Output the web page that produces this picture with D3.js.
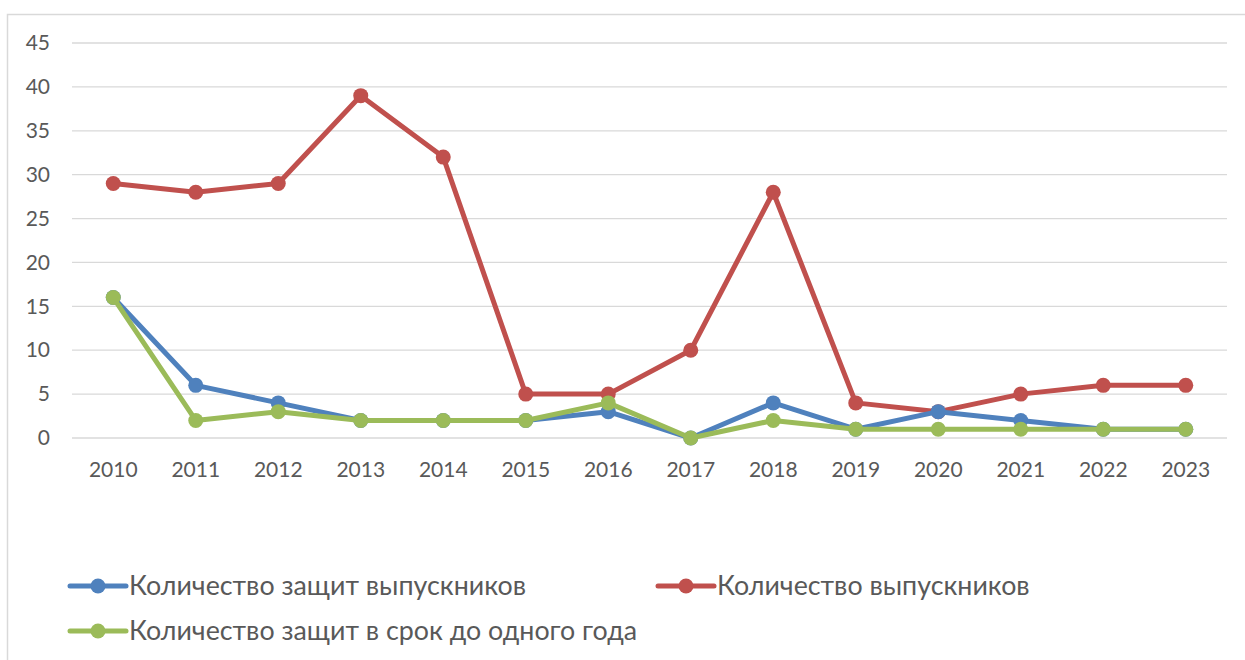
<!DOCTYPE html>
<html lang="ru">
<head>
  <meta charset="UTF-8">
  <title>Защиты выпускников</title>
  <script src="https://d3js.org/d3.v7.min.js"></script>
  <style>
    body{margin:0;background:#fff;font-family:Lato,"Open Sans",Arial,sans-serif}
    svg{display:block}
  </style>
</head>
<body>
<script>
// --- данные ---
const years=["2010","2011","2012","2013","2014","2015","2016","2017","2018","2019","2020","2021","2022","2023"];
const defenses=[16,6,4,2,2,2,3,0,4,1,3,2,1,1];
const graduates=[29,28,29,39,32,5,5,10,28,4,3,5,6,6];
const defensesInYear=[16,2,3,2,2,2,4,0,2,1,1,1,1,1];
const yTicks=[0,5,10,15,20,25,30,35,40,45];
const seriesNames=["Количество защит выпускников","Количество выпускников","Количество защит в срок до одного года"];
const seriesColors=["#4F81BD","#C0504D","#9BBB59"];

const W=1245,H=660;
const FONT="Lato,'Open Sans',Arial,sans-serif";
const svg=d3.select("body").append("svg").attr("width",W).attr("height",H);

// рамка области диаграммы
svg.append("path").attr("d",`M7.5,${H} V14.5 H${W}`)
   .attr("fill","none").attr("stroke","#d9d9d9").attr("stroke-width",1.5);

const x=d3.scaleBand().domain(years).range([72,1227]);
const y=d3.scaleLinear().domain([0,45]).range([438,43]);

// сетка
svg.append("g").selectAll("line").data(yTicks).join("line")
   .attr("x1",72).attr("x2",1227)
   .attr("y1",d=>y(d)).attr("y2",d=>y(d))
   .attr("stroke","#d9d9d9").attr("stroke-width",1.3);

// ось Y
const yAxis=svg.append("g").attr("transform","translate(62,0)")
   .call(d3.axisLeft(y).tickValues(yTicks).tickSize(0).tickPadding(12));
yAxis.select(".domain").remove();
yAxis.selectAll("text").attr("font-size",21).attr("fill","#595959")
   .attr("font-family",FONT);

// ось X
const xAxis=svg.append("g").attr("transform","translate(0,438)")
   .call(d3.axisBottom(x).tickSize(0).tickPadding(24));
xAxis.select(".domain").remove();
xAxis.selectAll("text").attr("font-size",21).attr("fill","#595959")
   .attr("font-family",FONT);

// линии
const series=[defenses,graduates,defensesInYear];
const cx=d=>x(d)+x.bandwidth()/2;
const line=d3.line().x((v,i)=>cx(years[i])).y(v=>y(v));
[1,0,2].forEach(k=>{
  const g=svg.append("g");
  g.append("path").datum(series[k]).attr("d",line)
   .attr("fill","none").attr("stroke",seriesColors[k])
   .attr("stroke-width",5).attr("stroke-linejoin","round");
  g.selectAll("circle").data(series[k]).join("circle")
   .attr("cx",(v,i)=>cx(years[i])).attr("cy",v=>y(v)).attr("r",7.5)
   .attr("fill",seriesColors[k]);
});

// легенда
const legendPos=[[70,586],[658,586],[70,631]];
seriesNames.forEach((name,k)=>{
  const [lx,ly]=legendPos[k];
  const g=svg.append("g").attr("transform",`translate(${lx},${ly})`);
  g.append("line").attr("x1",0).attr("x2",56).attr("y1",0).attr("y2",0)
   .attr("stroke",seriesColors[k]).attr("stroke-width",5).attr("stroke-linecap","round");
  g.append("circle").attr("cx",28).attr("cy",0).attr("r",7.5).attr("fill",seriesColors[k]);
  g.append("text").attr("x",59).attr("y",0).attr("dy","0.35em")
   .attr("font-size",26.8).attr("fill","#595959").text(name);
});
</script>
</body>
</html>
